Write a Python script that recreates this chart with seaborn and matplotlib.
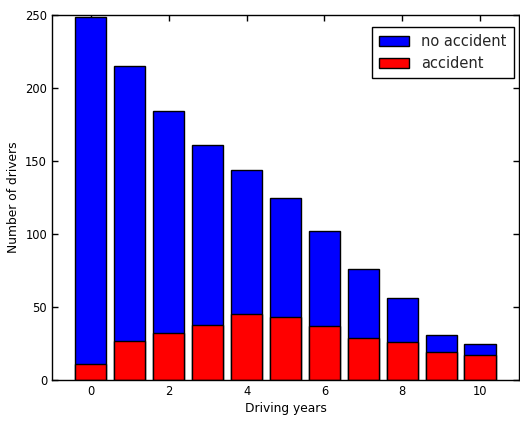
import matplotlib
matplotlib.use("Agg")
import matplotlib.pyplot as plt
import pandas as pd
import seaborn as sns
from matplotlib.patches import Patch

# driving years vs number of drivers
years = list(range(0, 11))
total_drivers = [249, 215, 184, 161, 144, 125, 102, 76, 56, 31, 25]
accident_drivers = [11, 27, 32, 38, 45, 43, 37, 29, 26, 19, 17]

df = pd.DataFrame({"years": years, "total": total_drivers, "accident": accident_drivers})

sns.set_style("ticks")
plt.rcParams['font.family'] = ['DejaVu Sans']

fig = plt.figure(figsize=(5.2, 4.21), dpi=100)
ax = fig.add_axes([0.1, 0.0974, 0.898, 0.8666])

sns.barplot(data=df, x="years", y="total", color="#0000ff", saturation=1,
            edgecolor="black", linewidth=1, width=0.8, ax=ax)
sns.barplot(data=df, x="years", y="accident", color="#ff0000", saturation=1,
            edgecolor="black", linewidth=1, width=0.8, ax=ax)

ax.set_xlim(-1, 11)
ax.set_ylim(0, 250)
ax.set_xticks([0, 2, 4, 6, 8, 10])
ax.set_xticklabels(["0", "2", "4", "6", "8", "10"])
ax.set_yticks([0, 50, 100, 150, 200, 250])
ax.tick_params(direction="in", top=True, right=True, length=4, width=1,
               labelsize=8.3, color="black", labelcolor="black", pad=3.5)
for sp in ax.spines.values():
    sp.set_visible(True)
    sp.set_color("black")
    sp.set_linewidth(1)

ax.set_xlabel("Driving years", fontsize=8.8, color="black", labelpad=3)
ax.set_ylabel("Number of drivers", fontsize=8.8, color="black", labelpad=4)

handles = [Patch(facecolor="#0000ff", edgecolor="black", label="no accident"),
           Patch(facecolor="#ff0000", edgecolor="black", label="accident")]
leg = ax.legend(handles=handles, loc="upper right", fontsize=10.5, fancybox=False,
                framealpha=1, edgecolor="black", handlelength=2.1, handleheight=0.7,
                handletextpad=0.8, borderpad=0.5, labelspacing=0.45,
                borderaxespad=0, bbox_to_anchor=(0.989, 0.967))
leg.get_frame().set_linewidth(1)

fig.savefig("out.png", dpi=100)
